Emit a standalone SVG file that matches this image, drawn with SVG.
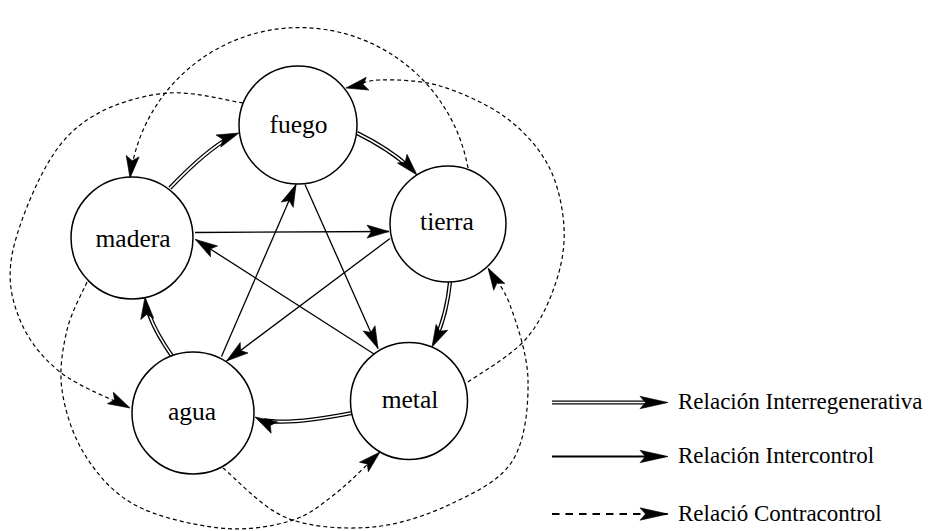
<svg xmlns="http://www.w3.org/2000/svg" width="931" height="531" viewBox="0 0 931 531">
<style>
.node circle{fill:#fff;stroke:#000;stroke-width:1.5}
.node text{font-family:"Liberation Serif",serif;font-size:25.5px;fill:#000;text-anchor:middle}
.ctl{fill:none;stroke:#000;stroke-width:1.3;marker-end:url(#ah)}
.dash{fill:none;stroke:#000;stroke-width:1.2;stroke-dasharray:4 3;marker-end:url(#ah)}
.dblk{fill:none;stroke:#000;stroke-width:4.2}
.dwht{fill:none;stroke:#fff;stroke-width:1.6;marker-end:url(#ah)}
.leg{font-family:"Liberation Serif",serif;font-size:23px;fill:#000}
</style>
<defs>
<marker id="ah" markerUnits="userSpaceOnUse" markerWidth="28" markerHeight="18" viewBox="-26 -9 28 18" refX="0" refY="0" orient="auto" overflow="visible">
<path d="M0,0 L-22,-6.5 L-17.5,0 L-22,6.5 Z" fill="#000" stroke="#000" stroke-width="0.6" stroke-linejoin="miter"/>
</marker>
<marker id="ahl" markerUnits="userSpaceOnUse" markerWidth="32" markerHeight="18" viewBox="-30 -9 32 18" refX="0" refY="0" orient="auto" overflow="visible">
<path d="M0,0 L-28,-6.2 L-22.5,0 L-28,6.2 Z" fill="#000" stroke="#000" stroke-width="0.6" stroke-linejoin="miter"/>
</marker>
</defs>

<g id="connectors">
<!-- contracontrol (dashed) -->
<path class="dash" d="M468,168 A171,171 0 0 0 130,178"/>
<path class="dash" d="M468,382 C477.5,375 510.5,356.2 525,340 C539.5,323.8 548.5,303.8 555,285 C561.5,266.2 565.2,247 564,227 C562.8,207 557.8,183.3 548,165 C538.2,146.7 523,130.2 505,117 C487,103.8 460.8,92.2 440,86 C419.2,79.8 395.5,79.7 380,80 C364.5,80.3 352.5,86.7 346,88"/>
<path class="dash" d="M223,468 C233.7,476.3 262,508.2 287,518 C312,527.8 345.3,529.5 373,527 C400.7,524.5 429.7,514.2 453,503 C476.3,491.8 500.5,480.5 513,460 C525.5,439.5 528.5,405.8 528,380 C527.5,354.2 516.7,323.7 510,305 C503.3,286.3 491.7,274.2 488,268"/>
<path class="dash" d="M87,282 C83.7,290 71.2,312 67,330 C62.8,348 59,369.2 62,390 C65,410.8 72.8,435.8 85,455 C97.2,474.2 112.5,492.8 135,505 C157.5,517.2 194.2,525.3 220,528 C245.8,530.7 270.8,526.7 290,521 C309.2,515.3 320,505.5 335,494 C350,482.5 372.5,459 380,452"/>
<path class="dash" d="M243,103 C230.5,101.3 192.7,91 168,93 C143.3,95 115,103.3 95,115 C75,126.7 61.8,139.7 48,163 C34.2,186.3 16.7,228.8 12,255 C7.3,281.2 12,300.5 20,320 C28,339.5 41.7,357.3 60,372 C78.3,386.7 118.3,402 130,408"/>

<!-- intercontrol (solid) -->
<path class="ctl" d="M195,232.5 L389,231.5"/>
<path class="ctl" d="M390,238.5 L226.5,361"/>
<path class="ctl" d="M221.5,356.5 L296,184.5"/>
<path class="ctl" d="M305,184.5 L378,348.5"/>
<path class="ctl" d="M374,354 L195.5,239.5"/>

<!-- interregenerativa (double) -->
<path class="dblk" pathLength="100" stroke-dasharray="88.7 100" d="M170,188 Q212.6,143.3 239,133"/>
<path class="dwht" pathLength="100" stroke-dasharray="80 100" d="M170,188 Q212.6,143.3 239,133"/>
<path class="dblk" pathLength="100" stroke-dasharray="86.5 100" d="M357,133 Q397,153 417,175"/>
<path class="dwht" pathLength="100" stroke-dasharray="76 100" d="M357,133 Q397,153 417,175"/>
<path class="dblk" pathLength="100" stroke-dasharray="85 100" d="M450,282 Q446.4,318.3 432,347"/>
<path class="dwht" pathLength="100" stroke-dasharray="73.5 100" d="M450,282 Q446.4,318.3 432,347"/>
<path class="dblk" pathLength="100" stroke-dasharray="90 100" d="M352,413 Q275,428 255,417"/>
<path class="dwht" pathLength="100" stroke-dasharray="82 100" d="M352,413 Q275,428 255,417"/>
<path class="dblk" pathLength="100" stroke-dasharray="85 100" d="M172,356 Q147.4,320.8 145,297"/>
<path class="dwht" pathLength="100" stroke-dasharray="72.5 100" d="M172,356 Q147.4,320.8 145,297"/>
</g>

<g id="fuego" class="node"><circle cx="298" cy="125" r="59"/><text x="298.5" y="132.5">fuego</text></g>
<g id="tierra" class="node"><circle cx="448" cy="224" r="58"/><text x="447" y="230">tierra</text></g>
<g id="madera" class="node"><circle cx="132" cy="238" r="61"/><text x="133" y="246.5">madera</text></g>
<g id="agua" class="node"><circle cx="193" cy="413" r="61"/><text x="192" y="419.5">agua</text></g>
<g id="metal" class="node"><circle cx="409" cy="401" r="58.5"/><text x="410" y="407.5">metal</text></g>

<g id="legend">
<line x1="552" y1="402.5" x2="656" y2="402.5" stroke="#000" stroke-width="4.2"/>
<line x1="552" y1="402.5" x2="645" y2="402.5" stroke="#fff" stroke-width="1.6"/>
<path d="M640,402.5 L668,402.5" fill="none" stroke="none" marker-end="url(#ahl)"/>
<path d="M552,456.5 L664,456.5" fill="none" stroke="#000" stroke-width="2"/>
<path d="M640,456.5 L668,456.5" fill="none" stroke="none" marker-end="url(#ahl)"/>
<path d="M552,514 L668,514" fill="none" stroke="#000" stroke-width="2" stroke-dasharray="7.5 6" marker-end="url(#ahl)"/>
<text class="leg" x="678" y="409">Relación Interregenerativa</text>
<text class="leg" x="678" y="463">Relación Intercontrol</text>
<text class="leg" x="678" y="521">Relació Contracontrol</text>
</g>
</svg>
